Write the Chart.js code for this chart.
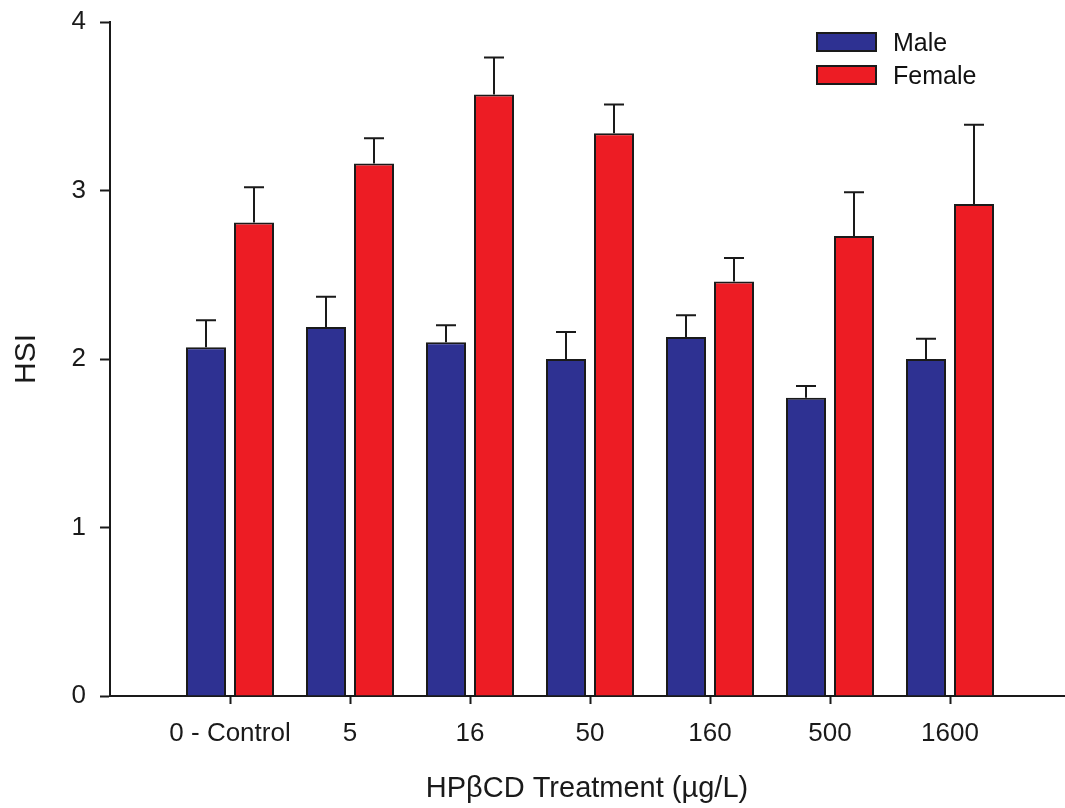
<!DOCTYPE html>
<html>
<head>
<meta charset="utf-8">
<script src="https://cdn.jsdelivr.net/npm/chart.js@4.4.1/dist/chart.umd.min.js"></script>
<style>
  body { margin: 0; background: #fff; }
  #wrap { position: relative; width: 1065px; height: 808px; }
  #legend { position: absolute; left: 816px; top: 32px; font-family: 'Liberation Sans', Arial, sans-serif; font-size: 25px; color: #111; }
  #legend .item { display: flex; align-items: center; height: 20px; margin-bottom: 13px; }
  #legend .box { width: 57px; height: 16px; border: 2px solid #1a1a1a; margin-right: 16px; }
</style>
</head>
<body>
<div id="wrap">
  <canvas id="chart" width="1065" height="808"></canvas>
  <div id="legend"></div>
</div>
<script>
// Treatment groups (x categories)
const treatments = ['0 - Control', '5', '16', '50', '160', '500', '1600'];

// HSI means
const maleHSI = [2.07, 2.19, 2.10, 2.00, 2.13, 1.77, 2.00];
const femaleHSI = [2.81, 3.16, 3.57, 3.34, 2.46, 2.73, 2.92];

// Upper error bar lengths (SE)
const maleSE = [0.16, 0.18, 0.10, 0.16, 0.13, 0.07, 0.12];
const femaleSE = [0.21, 0.15, 0.22, 0.17, 0.14, 0.26, 0.47];

const yTicks = [0, 1, 2, 3, 4];

const FONT = "'Liberation Sans', Arial, sans-serif";
const INK = '#1a1a1a';

// Draw upper error bars with a cap on each bar
const errorBars = {
  id: 'errorBars',
  afterDatasetsDraw(chart) {
    const ctx = chart.ctx;
    const yScale = chart.scales.y;
    ctx.save();
    ctx.strokeStyle = INK;
    ctx.lineWidth = 2;
    chart.data.datasets.forEach((ds, i) => {
      const meta = chart.getDatasetMeta(i);
      meta.data.forEach((bar, j) => {
        const val = ds.data[j].y + ds.errors[j];
        const yTop = yScale.getPixelForValue(val);
        ctx.beginPath();
        ctx.moveTo(bar.x, bar.y);
        ctx.lineTo(bar.x, yTop);
        ctx.moveTo(bar.x - 10, yTop);
        ctx.lineTo(bar.x + 10, yTop);
        ctx.stroke();
      });
    });
    ctx.restore();
  }
};

// Simple HTML legend built from the datasets
const htmlLegend = {
  id: 'htmlLegend',
  afterUpdate(chart) {
    const el = document.getElementById('legend');
    el.innerHTML = '';
    chart.data.datasets.forEach(ds => {
      const item = document.createElement('div');
      item.className = 'item';
      const box = document.createElement('span');
      box.className = 'box';
      box.style.background = ds.backgroundColor;
      const txt = document.createElement('span');
      txt.textContent = ds.label;
      item.appendChild(box);
      item.appendChild(txt);
      el.appendChild(item);
    });
  }
};

const toPoints = arr => arr.map((v, i) => ({ x: i + 1, y: v }));

const ctx = document.getElementById('chart').getContext('2d');
new Chart(ctx, {
  type: 'bar',
  data: {
    datasets: [
      {
        label: 'Male',
        data: toPoints(maleHSI),
        errors: maleSE,
        backgroundColor: '#2e3192',
        borderColor: INK,
        borderWidth: 2,
        categoryPercentage: 0.8,
        barPercentage: 0.833
      },
      {
        label: 'Female',
        data: toPoints(femaleHSI),
        errors: femaleSE,
        backgroundColor: '#ed1c24',
        borderColor: INK,
        borderWidth: 2,
        categoryPercentage: 0.8,
        barPercentage: 0.833
      }
    ]
  },
  options: {
    responsive: false,
    animation: false,
    devicePixelRatio: 1,
    layout: { padding: { top: 22, left: 0, right: 1, bottom: 0 } },
    plugins: {
      legend: { display: false },
      tooltip: { enabled: false }
    },
    scales: {
      x: {
        type: 'linear',
        min: 0,
        max: 7.95,
        offset: false,
        afterFit: s => { s.height = 112; },
        afterBuildTicks: s => {
          s.ticks = treatments.map((t, i) => ({ value: i + 1 }));
        },
        ticks: {
          autoSkip: false,
          maxRotation: 0,
          padding: 14,
          color: INK,
          font: { family: FONT, size: 26 },
          callback: v => treatments[v - 1] || ''
        },
        grid: {
          drawOnChartArea: false,
          tickLength: 8,
          tickWidth: 2,
          tickColor: INK,
          offset: false
        },
        border: { display: true, color: INK, width: 2 },
        title: {
          display: true,
          text: 'HPβCD Treatment (µg/L)',
          color: INK,
          font: { family: FONT, size: 29 },
          padding: { top: 0, bottom: 2 }
        }
      },
      y: {
        min: 0,
        max: 4,
        afterFit: s => {
          s.width = 110;
          s.paddingTop = 0;
          s.paddingBottom = 0;
        },
        afterBuildTicks: s => {
          s.ticks = yTicks.map(v => ({ value: v }));
        },
        ticks: {
          padding: 14,
          color: INK,
          font: { family: FONT, size: 26 }
        },
        grid: {
          drawOnChartArea: false,
          tickLength: 10,
          tickWidth: 2,
          tickColor: INK
        },
        border: { display: true, color: INK, width: 2 },
        title: {
          display: true,
          text: 'HSI',
          color: INK,
          font: { family: FONT, size: 30 },
          padding: { top: 9, bottom: 0 }
        }
      }
    }
  },
  plugins: [errorBars, htmlLegend]
});
</script>
</body>
</html>
